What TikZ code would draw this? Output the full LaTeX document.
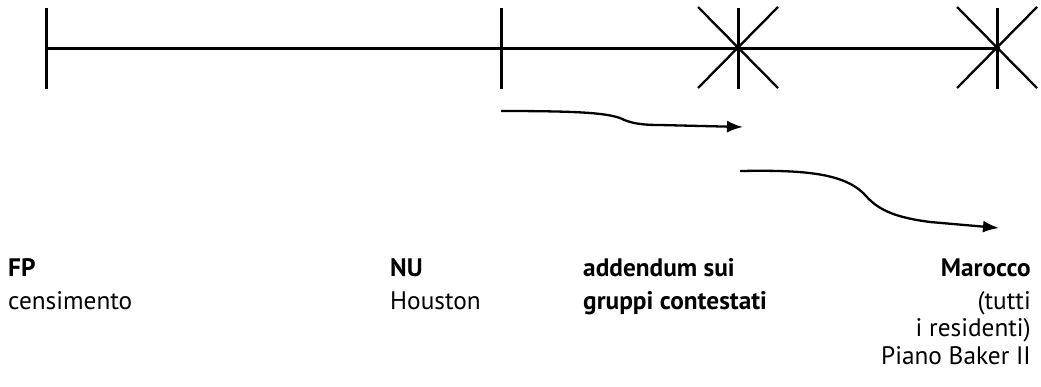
\documentclass[tikz,border=0pt]{standalone}
\usepackage{fontspec}
\setmainfont{PT Sans}
\usetikzlibrary{arrows.meta}

\tikzset{
  axis/.style={line width=3pt},
  tickmark/.style={line width=3pt},
  diag/.style={line width=2.3pt},
  flow/.style={line width=2.3pt, -{Latex[length=16pt,width=12pt]}},
  lbl/.style={inner sep=0pt, font=\fontsize{25.3}{27.5}\selectfont},
}

\begin{document}
\begin{tikzpicture}[x=1pt,y=-1pt]
\useasboundingbox (0,0) rectangle (1041,386);

% timeline points
\coordinate (t0) at (46,48);
\coordinate (t1) at (501,48);
\coordinate (t2) at (738,48);
\coordinate (t3) at (997,48);

\draw[axis] (t0) -- (t3);

% plain ticks
\foreach \p in {t0,t1}
  \draw[tickmark] ([yshift=40pt]\p) -- ([yshift=-41pt]\p);

% starred ticks
\foreach \p in {t2,t3}{
  \draw[tickmark] ([yshift=40pt]\p) -- ([yshift=-41pt]\p);
  \draw[diag] ([shift={(-40pt,41pt)}]\p) -- ([shift={(40pt,-40pt)}]\p);
  \draw[diag] ([shift={(-40pt,-40pt)}]\p) -- ([shift={(40pt,41pt)}]\p);
  \fill (\p) circle (3pt);
}

% shifts
\coordinate (a1s) at (501,111);
\coordinate (a1e) at (743,127);
\draw[flow] (a1s) .. controls (580,111) and (605,113) .. (620,118)
  .. controls (630,123) and (640,125) .. (660,125) -- (a1e);

\coordinate (a2s) at (740,171);
\coordinate (a2e) at (999,228);
\draw[flow] (a2s) .. controls (800,170) and (845,172) .. (866,196)
  .. controls (880,212) and (900,218) .. (930,222) -- (a2e);

% labels (anchored on the baseline of their last line)
\node[lbl, anchor=base west, align=left] (fp) at (8,309)
  {\textbf{FP}\\[5pt]censimento};
\node[lbl, anchor=base west, align=left] (nu) at (390,309)
  {\textbf{NU}\\[5pt]Houston};
\node[lbl, anchor=base west, align=left] (add) at (583,309)
  {\textbf{addendum sui}\\[5pt]\textbf{gruppi contestati}};
\node[lbl, anchor=base east, align=right] (ma) at (1031,364)
  {\textbf{Marocco}\\[5pt](tutti\\i residenti)\\Piano Baker II};
\end{tikzpicture}
\end{document}
